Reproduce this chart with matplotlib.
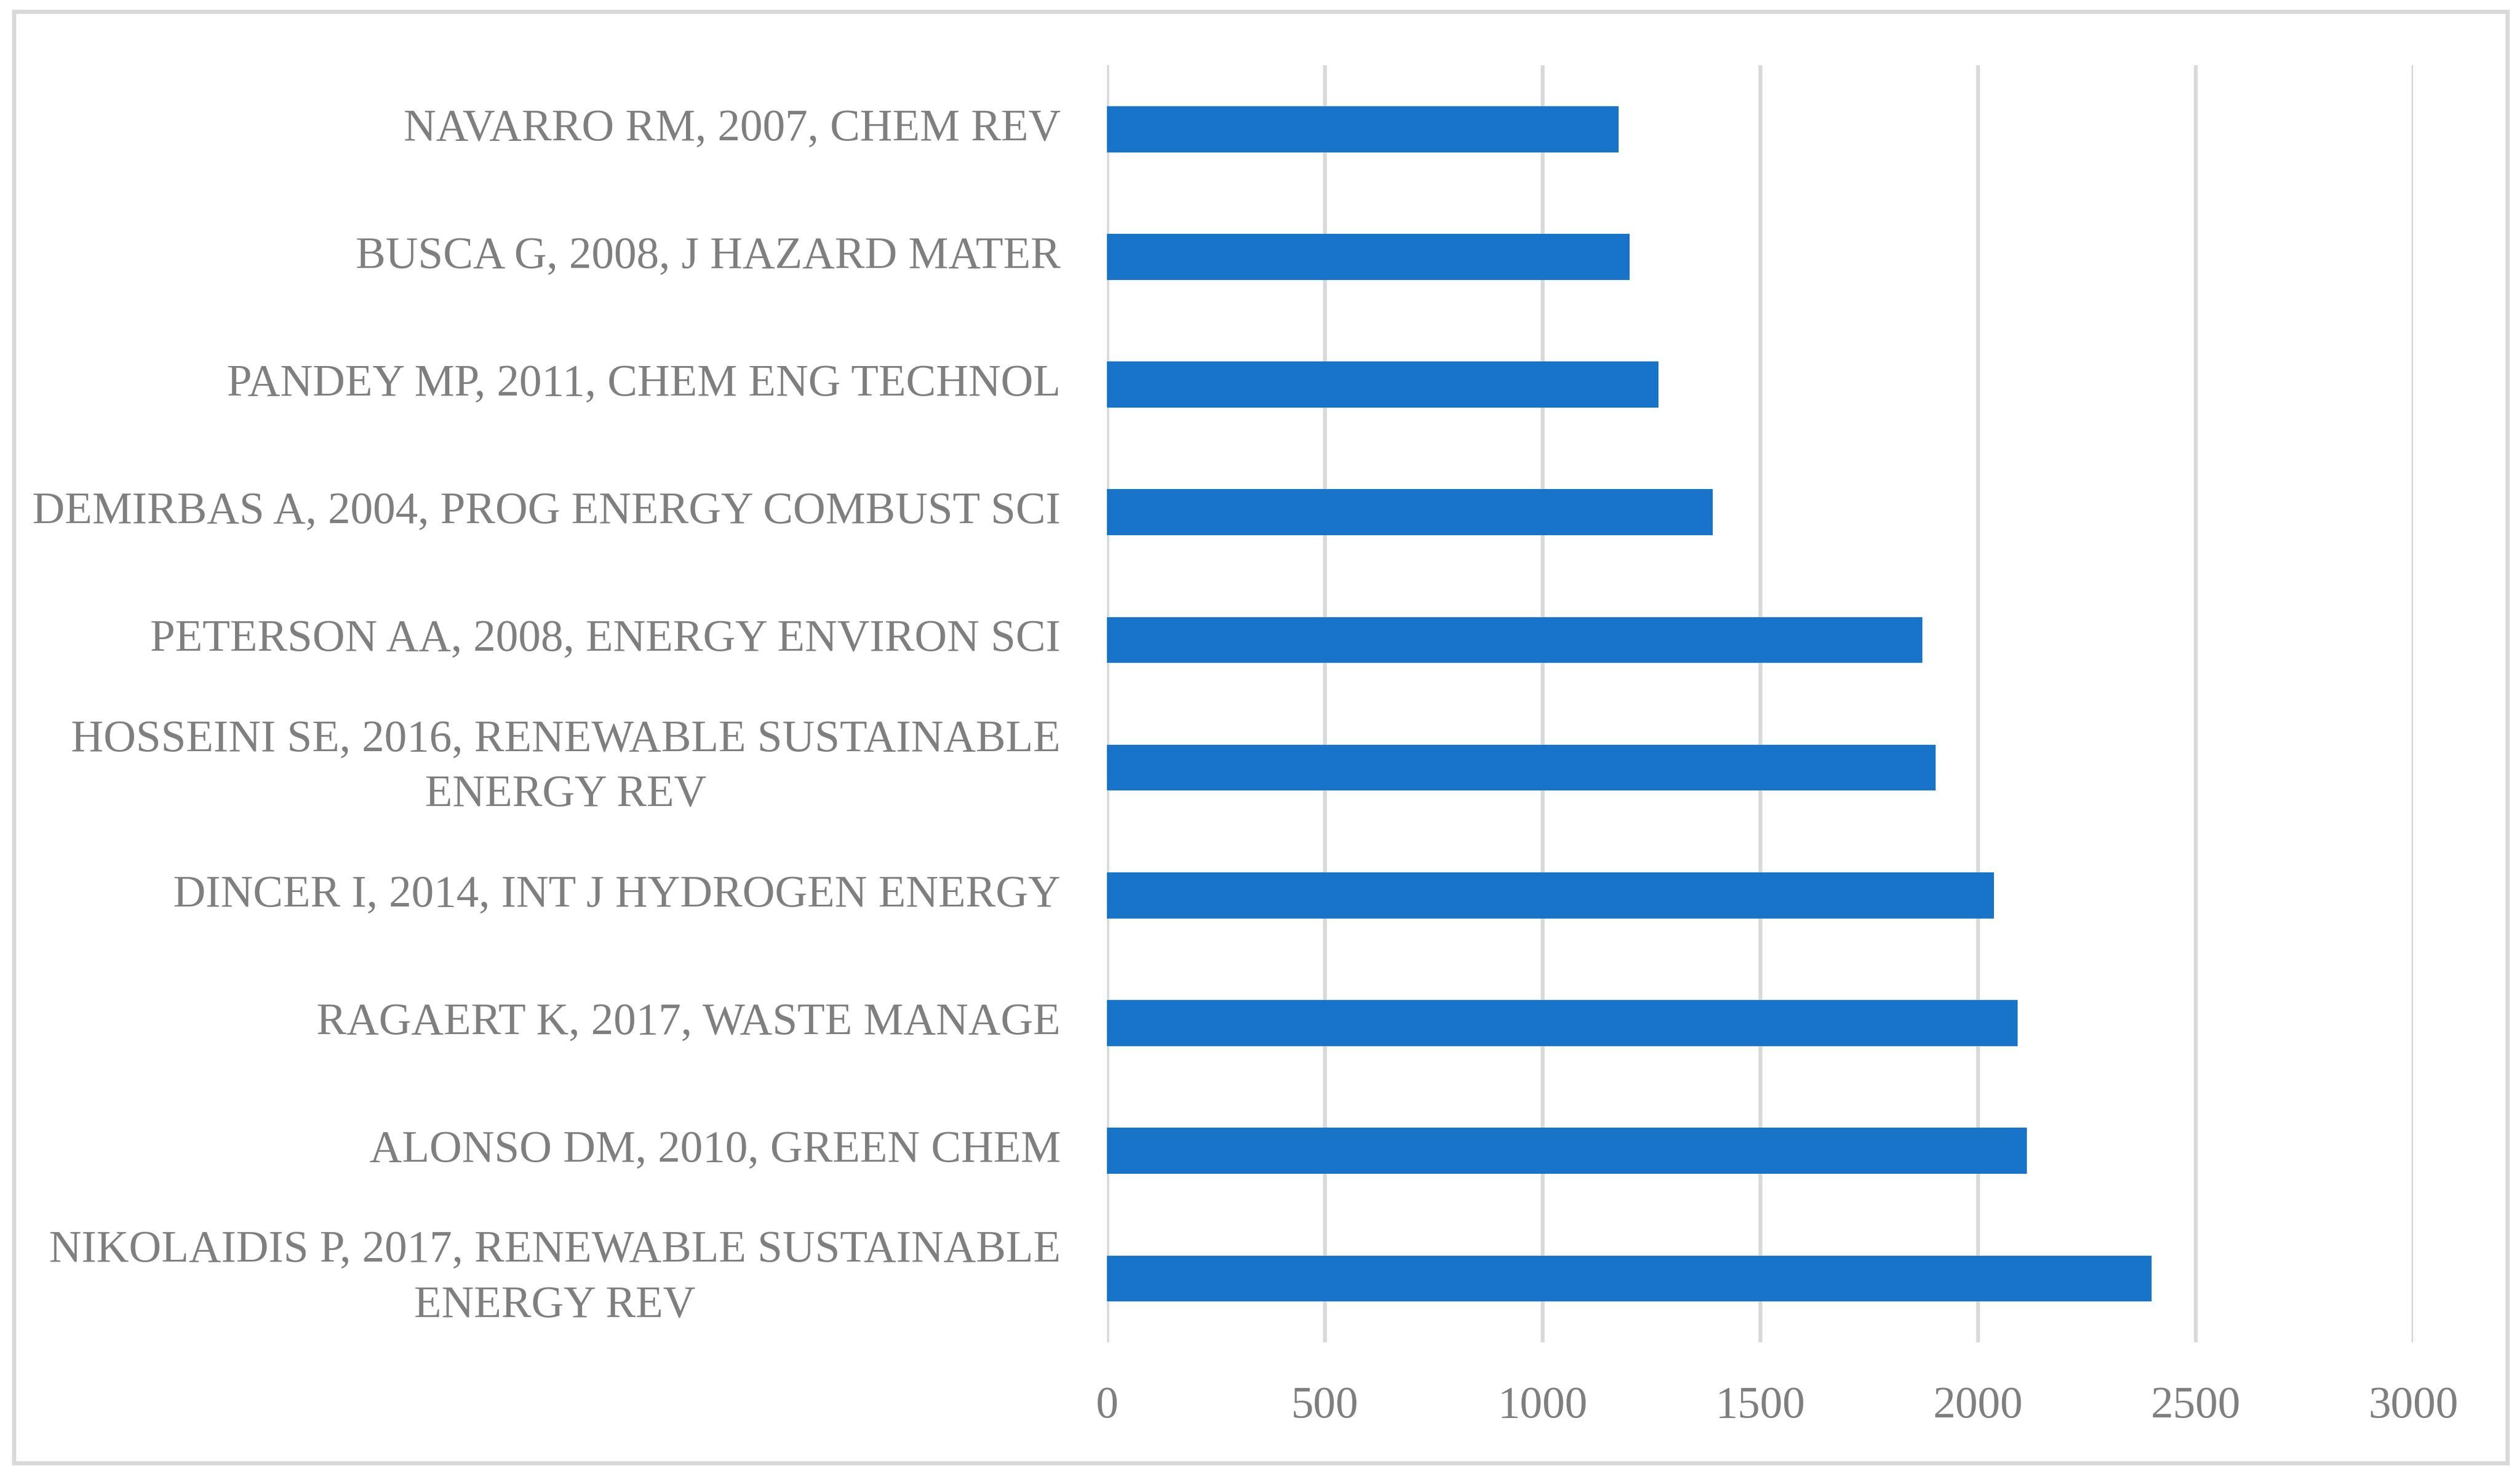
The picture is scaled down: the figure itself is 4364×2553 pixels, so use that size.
import matplotlib.pyplot as plt
from matplotlib.patches import Rectangle

# data, bottom to top as drawn
papers = ["NIKOLAIDIS P, 2017, RENEWABLE SUSTAINABLE\nENERGY REV",
          "ALONSO DM, 2010, GREEN CHEM",
          "RAGAERT K, 2017, WASTE MANAGE",
          "DINCER I, 2014, INT J HYDROGEN ENERGY",
          "HOSSEINI SE, 2016, RENEWABLE SUSTAINABLE\nENERGY REV",
          "PETERSON AA, 2008, ENERGY ENVIRON SCI",
          "DEMIRBAS A, 2004, PROG ENERGY COMBUST SCI",
          "PANDEY MP, 2011, CHEM ENG TECHNOL",
          "BUSCA G, 2008, J HAZARD MATER",
          "NAVARRO RM, 2007, CHEM REV"]
citations = [2399, 2113, 2091, 2037, 1903, 1873, 1391, 1267, 1200, 1175]
xticks = [0, 500, 1000, 1500, 2000, 2500, 3000]

plt.rcParams['font.family'] = ['Liberation Serif', 'DejaVu Serif']
txtcolor = '#7f7f7f'
gridcolor = '#d9d9d9'

fig = plt.figure(figsize=(21.82, 12.765), dpi=200)
ax = fig.add_axes([0.4393, 0.0893, 0.5183, 0.8664])

ypos = list(range(len(papers)))
ax.barh(ypos, citations, height=0.36, color='#1874c8', zorder=3)

ax.set_xlim(0, 3000)
ax.set_ylim(-0.5, len(papers) - 0.5)
ax.set_xticks(xticks)
ax.set_xticklabels([str(t) for t in xticks])
ax.set_yticks(ypos)
ax.set_yticklabels(papers)
for lab in ax.get_yticklabels():
    lab.set_multialignment('center')
    lab.set_linespacing(1.45)
    lab.set_verticalalignment('center')

ax.tick_params(axis='both', length=0, labelsize=28, labelcolor=txtcolor)
ax.tick_params(axis='y', pad=29)
ax.tick_params(axis='x', pad=27)

ax.grid(axis='x', color=gridcolor, linewidth=2.4, zorder=0)
ax.set_axisbelow(True)
for s in ax.spines.values():
    s.set_visible(False)

# outer chart border
fig.patches.append(Rectangle((0.0055, 0.0075), 0.9895, 0.9845, transform=fig.transFigure,
                             fill=False, edgecolor=gridcolor, linewidth=2.6))

fig.savefig('out.png', dpi=200, facecolor='white')
